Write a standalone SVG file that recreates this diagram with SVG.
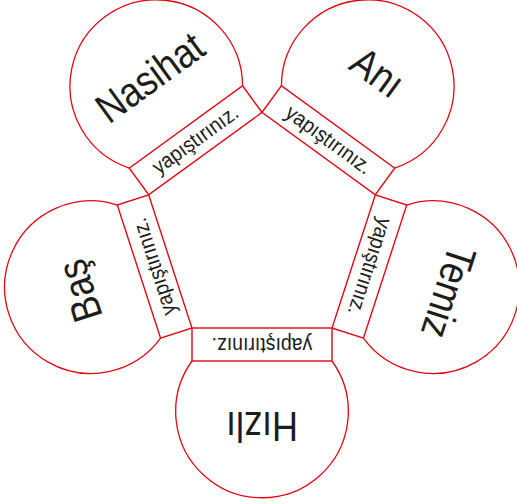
<svg xmlns="http://www.w3.org/2000/svg" width="517" height="504" viewBox="0 0 517 504">
<style>
.tab{fill:#fff;stroke:#e30613;stroke-width:1.4}
.cir{fill:#fff;stroke:#e30613;stroke-width:1.3}
.word{font-family:"Liberation Sans",Arial,sans-serif;font-size:36px;fill:#1d1d1b;text-anchor:middle}
.glue{font-family:"Liberation Sans",Arial,sans-serif;font-size:19.5px;fill:#1d1d1b;text-anchor:middle}
</style>
<rect width="517" height="504" fill="#fff"/>
<g id="connectors"/>
<g id="node-hizli" transform="rotate(0 262 231.6)">
<path class="cir" d="M192,361 A86.3,86.3 0 1,0 332,361"/>
<rect class="tab" x="192" y="328" width="140" height="33"/>
<text class="glue" transform="translate(262 344.5) rotate(180) scale(1 1.1)" dy="0.3em">yapıştırınız.</text>
<text class="word" transform="translate(262 427.5) rotate(180) scale(1 1.16)" dy="0.36em">Hızlı</text>
</g>
<g id="node-bas" transform="rotate(72 262 231.6)">
<path class="cir" d="M192,361 A86.3,86.3 0 1,0 332,361"/>
<rect class="tab" x="192" y="328" width="140" height="33"/>
<text class="glue" transform="translate(262 344.5) rotate(180) scale(1 1.1)" dy="0.3em">yapıştırınız.</text>
<text class="word" transform="translate(262 424) rotate(180) scale(1 1.16)" dy="0.36em">Baş</text>
</g>
<g id="node-nasihat" transform="rotate(144 262 231.6)">
<path class="cir" d="M192,361 A86.3,86.3 0 1,0 332,361"/>
<rect class="tab" x="192" y="328" width="140" height="33"/>
<text class="glue" transform="translate(262 344.5) rotate(180) scale(1 1.1)" dy="0.3em">yapıştırınız.</text>
<text class="word" transform="translate(262 423) rotate(180) scale(1 1.16)" dy="0.36em">Nasihat</text>
</g>
<g id="node-ani" transform="rotate(216 262 231.6)">
<path class="cir" d="M192,361 A86.3,86.3 0 1,0 332,361"/>
<rect class="tab" x="192" y="328" width="140" height="33"/>
<text class="glue" transform="translate(262 344.5) rotate(180) scale(1 1.1)" dy="0.3em">yapıştırınız.</text>
<text class="word" transform="translate(262 429) rotate(180) scale(1 1.16)" dy="0.36em">Anı</text>
</g>
<g id="node-temiz" transform="rotate(-72 262 231.6)">
<path class="cir" d="M192,361 A86.3,86.3 0 1,0 332,361"/>
<rect class="tab" x="192" y="328" width="140" height="33"/>
<text class="glue" transform="translate(262 344.5) rotate(180) scale(1 1.1)" dy="0.3em">yapıştırınız.</text>
<text class="word" transform="translate(262 428.5) rotate(180) scale(1 1.16)" dy="0.36em">Temiz</text>
</g>
</svg>
